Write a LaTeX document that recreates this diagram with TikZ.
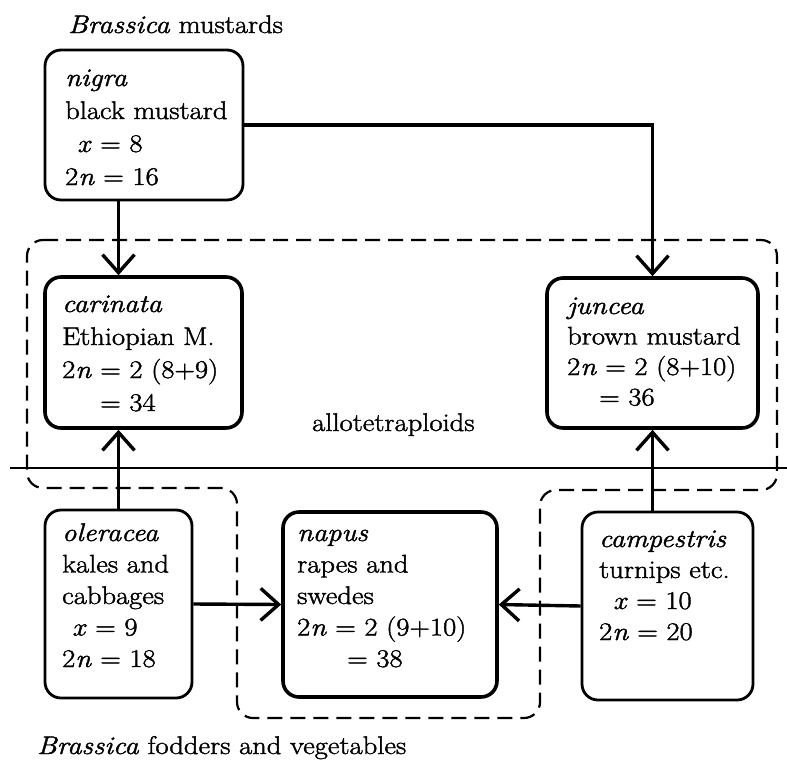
\documentclass[tikz,border=0pt]{standalone}
\usepackage{fontspec}
\setmainfont{Latin Modern Roman}[FakeStretch=1.12, FakeBold=1.6]
\usetikzlibrary{arrows.meta}
\newcommand{\boxlines}[1]{\begin{tabular}[t]{@{}l@{}}#1\end{tabular}}
\tikzset{
  fbox/.style={draw, rounded corners=16pt, line width=2.8pt, inner sep=0pt},
  abox/.style={fbox, line width=3.6pt},
  txt/.style={anchor=base west, inner sep=0pt, font=\fontsize{25.5}{33}\selectfont},
  conn/.style={line width=3.4pt, -{Straight Barb[length=18pt,width=32pt]}},
  group/.style={dashed, dash pattern=on 15pt off 8pt, line width=2.2pt, rounded corners=16pt},
}
\begin{document}
\begin{tikzpicture}[x=1pt,y=-1pt]
\useasboundingbox (0,0) rectangle (787,772);
% boxes
\node[fbox, minimum width=198, minimum height=150] (nigra) at (144,125) {};
\node[abox, minimum width=197, minimum height=151] (carinata) at (143.5,352.5) {};
\node[abox, minimum width=211, minimum height=150] (juncea) at (652.5,353) {};
\node[fbox, minimum width=147, minimum height=188] (oleracea) at (118.5,604) {};
\node[abox, minimum width=214, minimum height=185] (napus) at (390,604.5) {};
\node[fbox, minimum width=171, minimum height=188] (campestris) at (667.5,606) {};
% texts
\node[txt] (tnigra) at (65,86) {\boxlines{\textit{nigra}\\ black mustard\\ \hspace{12pt}\textit{x} = 8\\ 2\textit{n} = 16}};
\node[txt] (tcarinata) at (62,312) {\boxlines{\textit{carinata}\\ Ethiopian M.\\ 2\textit{n} = 2 (8+9)\\ \hspace{38pt}= 34}};
\node[txt, font=\fontsize{25.5}{30.5}\selectfont] (tjuncea) at (567,314) {\boxlines{\textit{juncea}\\ brown mustard\\ 2\textit{n} = 2 (8+10)\\ \hspace{32pt}= 36}};
\node[txt, font=\fontsize{25.5}{31.5}\selectfont] (toleracea) at (62,541) {\boxlines{\textit{oleracea}\\ kales and\\ cabbages\\ \hspace{10pt}\textit{x} = 9\\ 2\textit{n} = 18}};
\node[txt, font=\fontsize{25.5}{31.5}\selectfont] (tnapus) at (297,541) {\boxlines{\textit{napus}\\ rapes and\\ swedes\\ 2\textit{n} = 2 (9+10)\\ \hspace{50pt}= 38}};
\node[txt, font=\fontsize{25.5}{31}\selectfont] (tcampestris) at (599,547) {\boxlines{\textit{campestris}\\ turnips etc.\\ \hspace{14pt}\textit{x} = 10\\ 2\textit{n} = 20}};
% titles
\node[txt] (title1) at (68,33) {\textit{Brassica} mustards};
\node[txt] (title2) at (37,754) {\textit{Brassica} fodders and vegetables};
\node[txt] (allo) at (312,431) {allotetraploids};
% divider and group outline
\draw[line width=2.4pt] (10,468) -- (787,468);
\draw[group] (27,240) -- (777,240) -- (777,490) -- (540,490) -- (540,718) -- (237,718) -- (237,488) -- (27,488) -- cycle;
% connectors
\draw[conn] (nigra.south -| oleracea.north) -- (carinata.north -| oleracea.north);
\draw[conn] (nigra.east) -| (juncea.north);
\draw[conn] (oleracea.north) -- (carinata.south -| oleracea.north);
\draw[conn] (campestris.north -| juncea.south) -- (juncea.south);
\draw[conn] (oleracea.east) -- (napus.west);
\draw[conn] (campestris.west) -- (napus.east);
\end{tikzpicture}
\end{document}
